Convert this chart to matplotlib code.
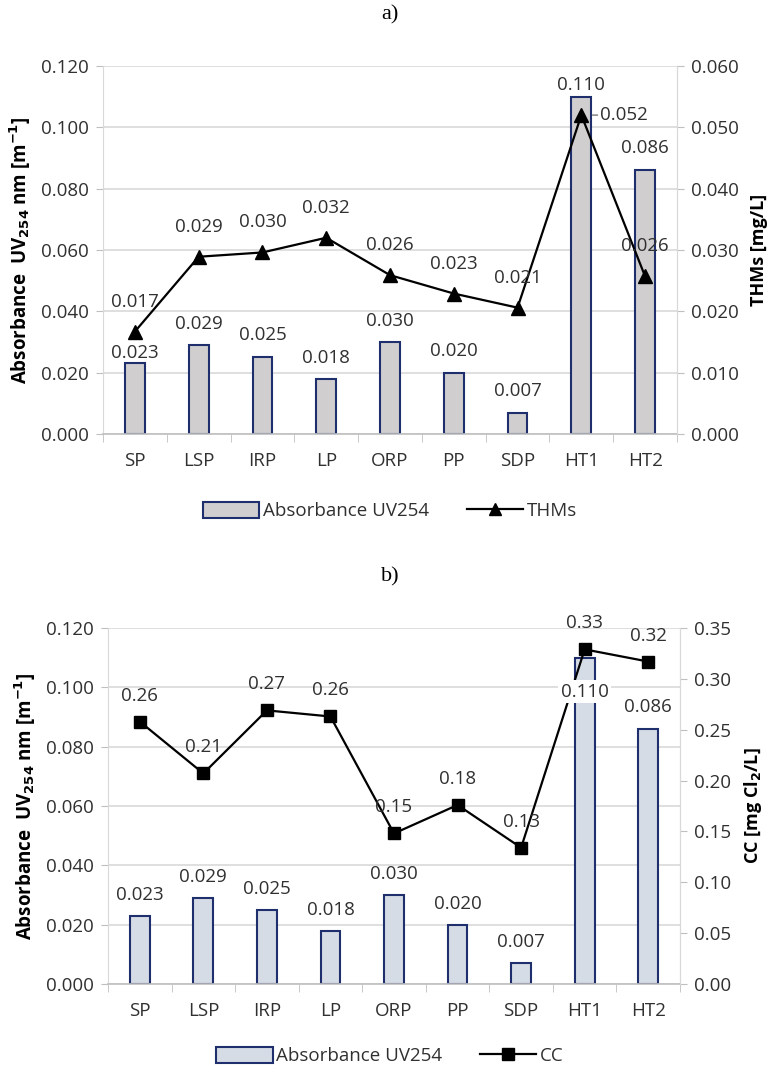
import matplotlib
matplotlib.use("Agg")
import matplotlib.pyplot as plt
import matplotlib.patches as mpatches
from matplotlib.lines import Line2D
from matplotlib.ticker import FixedLocator, FormatStrFormatter, MultipleLocator

categories = ["SP", "LSP", "IRP", "LP", "ORP", "PP", "SDP", "HT1", "HT2"]
absorbance = [0.023, 0.029, 0.025, 0.018, 0.030, 0.020, 0.007, 0.110, 0.086]
absorbance_labels = ["0.023", "0.029", "0.025", "0.018", "0.030", "0.020", "0.007", "0.110", "0.086"]
thms = [0.0167, 0.0289, 0.0296, 0.0320, 0.0259, 0.0229, 0.0206, 0.0520, 0.0257]
thms_labels = ["0.017", "0.029", "0.030", "0.032", "0.026", "0.023", "0.021", "0.052", "0.026"]
cc = [0.258, 0.207, 0.269, 0.263, 0.148, 0.176, 0.134, 0.329, 0.317]
cc_labels = ["0.26", "0.21", "0.27", "0.26", "0.15", "0.18", "0.13", "0.33", "0.32"]

FONT = "Open Sans"
TXT = "#303030"
GRID = "#D9D9D9"
EDGE = "#1F2F6E"
FS = 13.5

fig = plt.figure(figsize=(7.8, 10.68), dpi=100)

PX = 72 / 100.0  # points per pixel


def style_axes(ax, ax2, right_max, right_step, right_fmt):
    x = range(len(categories))
    ax.set_xlim(-0.5, len(categories) - 0.5)
    ax.set_ylim(0, 0.12)
    ax.yaxis.set_major_locator(MultipleLocator(0.02))
    ax.yaxis.set_major_formatter(FormatStrFormatter("%.3f"))
    ax.set_xticks(list(x))
    ax.set_xticklabels(categories, fontsize=FS, family=FONT, color=TXT)
    ax.xaxis.set_minor_locator(FixedLocator([i - 0.5 for i in range(len(categories) + 1)]))
    ax.tick_params(axis="x", which="major", length=0, pad=13)
    ax.tick_params(axis="x", which="minor", length=6, color="#BFBFBF", direction="out")
    ax.tick_params(axis="y", length=5, color="#BFBFBF", pad=5, labelsize=FS, labelcolor=TXT)
    for lab in ax.get_yticklabels():
        lab.set_family(FONT)
    ax.grid(axis="y", color=GRID, lw=1.2)
    ax.set_axisbelow(True)
    ax.spines["top"].set_visible(False)
    ax.spines["left"].set_color(GRID)
    ax.spines["right"].set_color(GRID)
    ax.spines["bottom"].set_color("#BFBFBF")
    ax.spines["bottom"].set_linewidth(1.2)

    ax2.set_ylim(0, right_max)
    ax2.yaxis.set_major_locator(MultipleLocator(right_step))
    ax2.yaxis.set_major_formatter(FormatStrFormatter(right_fmt))
    ax2.tick_params(axis="y", length=5, color="#BFBFBF", pad=5, labelsize=FS, labelcolor=TXT)
    for lab in ax2.get_yticklabels():
        lab.set_family(FONT)
    for s in ["top", "left", "bottom"]:
        ax2.spines[s].set_visible(False)
    ax2.spines["right"].set_color(GRID)


ylabel = r"Absorbance  UV$_{\mathbf{254}}$ nm [m$^{\mathbf{-1}}$]"

# ---------------- panel a ----------------
axa = fig.add_axes([103 / 780, 1 - 434 / 1068, (677 - 103) / 780, (434 - 66) / 1068])
axa2 = axa.twinx()
xs = list(range(len(categories)))
axa.bar(xs, absorbance, width=0.31, color="#D0CECE", edgecolor=EDGE, linewidth=1.5, zorder=2)
axa2.plot(xs, thms, color="black", lw=1.6, marker="^", markersize=9.5, zorder=3)
style_axes(axa, axa2, 0.06, 0.01, "%.3f")
axa.set_ylabel(ylabel, fontsize=13.5, fontweight="bold", family=FONT, color="black", labelpad=6)
axa2.set_ylabel("THMs [mg/L]", fontsize=13, fontweight="bold", family=FONT, color="black", labelpad=8)

bar_off_a = [10, 21, 22, 21, 21, 22, 22, 12, 22]
for i, (v, t) in enumerate(zip(absorbance, absorbance_labels)):
    axa2.annotate(t, xy=(i, v), xycoords=axa.transData, xytext=(0, bar_off_a[i] * PX),
                  textcoords="offset points", ha="center", va="center",
                  fontsize=FS, family=FONT, color=TXT, zorder=5)
for i, (v, t) in enumerate(zip(thms, thms_labels)):
    if i == 7:
        axa2.annotate(t, xy=(i, v), xytext=(43 * PX, 0), textcoords="offset points",
                      ha="center", va="center", fontsize=FS, family=FONT, color=TXT,
                      arrowprops=dict(arrowstyle="-", color="#555555", lw=0.8,
                                      shrinkA=0, shrinkB=8))
    else:
        axa2.annotate(t, xy=(i, v), xytext=(0, 30 * PX), textcoords="offset points",
                      ha="center", va="center", fontsize=FS, family=FONT, color=TXT, zorder=5)

fig.text(0.5, 1 - 15 / 1068, "a)", ha="center", va="center", fontsize=16,
         family="Liberation Serif")

h1 = mpatches.Patch(facecolor="#D0CECE", edgecolor=EDGE, linewidth=1.5)
h2 = Line2D([], [], color="black", lw=1.6, marker="^", markersize=9)
fig.legend([h1, h2], ["Absorbance UV254", "THMs"], loc="center", ncol=2,
           bbox_to_anchor=(0.5, 1 - 511 / 1068), frameon=False,
           prop={"family": FONT, "size": FS}, labelcolor=TXT,
           handlelength=3.0, handleheight=1.0, columnspacing=2.0, handletextpad=0.2)

# ---------------- panel b ----------------
axb = fig.add_axes([108 / 780, 1 - 984 / 1068, (680 - 108) / 780, (984 - 628) / 1068])
axb2 = axb.twinx()
axb.bar(xs, absorbance, width=0.31, color="#D6DCE5", edgecolor=EDGE, linewidth=1.5, zorder=2)
axb2.plot(xs, cc, color="black", lw=1.6, marker="s", markersize=8, zorder=3)
style_axes(axb, axb2, 0.35, 0.05, "%.2f")
axb.set_ylabel(ylabel, fontsize=13.5, fontweight="bold", family=FONT, color="black", labelpad=6)
axb2.set_ylabel(r"CC [mg Cl$_{\mathbf{2}}$/L]", fontsize=13, fontweight="bold", family=FONT,
                color="black", labelpad=8)

bar_off_b = [21, 21, 21, 21, 21, 21, 21, -34, 22]
for i, (v, t) in enumerate(zip(absorbance, absorbance_labels)):
    kw = {}
    if i == 7:
        kw["bbox"] = dict(facecolor="white", edgecolor="none", pad=2)
    axb2.annotate(t, xy=(i, v), xycoords=axb.transData, xytext=(0, bar_off_b[i] * PX),
                  textcoords="offset points", ha="center", va="center",
                  fontsize=FS, family=FONT, color=TXT, zorder=5, **kw)
for i, (v, t) in enumerate(zip(cc, cc_labels)):
    axb2.annotate(t, xy=(i, v), xytext=(0, 26 * PX), textcoords="offset points",
                  ha="center", va="center", fontsize=FS, family=FONT, color=TXT, zorder=5)

fig.text(0.5, 1 - 577 / 1068, "b)", ha="center", va="center", fontsize=16,
         family="Liberation Serif")

h3 = mpatches.Patch(facecolor="#D6DCE5", edgecolor=EDGE, linewidth=1.5)
h4 = Line2D([], [], color="black", lw=1.6, marker="s", markersize=8)
fig.legend([h3, h4], ["Absorbance UV254", "CC"], loc="center", ncol=2,
           bbox_to_anchor=(0.5, 1 - 1056 / 1068), frameon=False,
           prop={"family": FONT, "size": FS}, labelcolor=TXT,
           handlelength=3.0, handleheight=1.0, columnspacing=2.0, handletextpad=0.2)

fig.savefig("out.png", dpi=100)
